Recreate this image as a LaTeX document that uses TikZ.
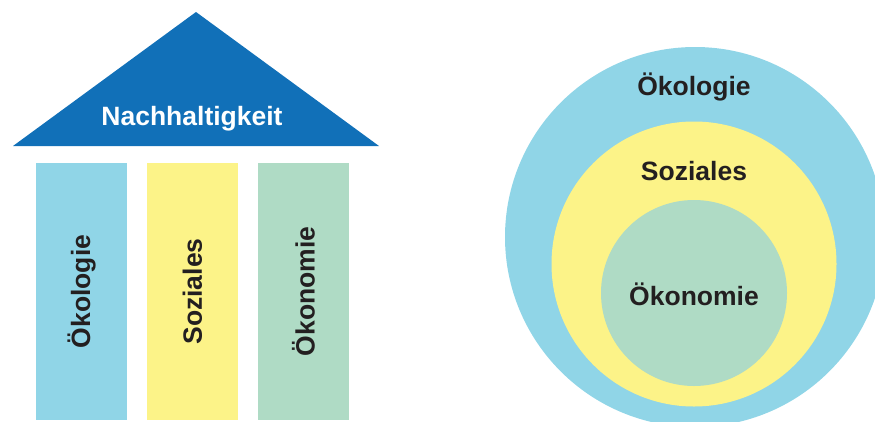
\documentclass[tikz,border=0pt]{standalone}
\usepackage{fontspec}
\setmainfont{Liberation Sans}
\definecolor{roofblue}{HTML}{1170B8}
\definecolor{ecoblue}{HTML}{90D5E7}
\definecolor{socyellow}{HTML}{FCF388}
\definecolor{ecogreen}{HTML}{AFDBC5}
\definecolor{txt}{HTML}{231F20}
\tikzset{
  lbl/.style={font=\fontsize{26.5}{30}\selectfont\bfseries, text=txt, inner sep=0pt},
  pillar/.style={minimum width=91pt, minimum height=257pt, inner sep=0pt, draw=none},
  ring/.style={circle, inner sep=0pt, draw=none}
}
\begin{document}
\begin{tikzpicture}[x=1pt,y=-1pt]
\useasboundingbox (0,0) rectangle (875,421);
\clip (0,0) rectangle (875,421);
% roof
\fill[roofblue] (196,12) -- (379,146) -- (13,146) -- cycle;
\node[lbl, text=white] (nach) at (192,119) {Nachhaltigkeit};
% pillars
\node[pillar, fill=ecoblue] (p1) at (81.5,291.5) {};
\node[pillar, fill=socyellow] (p2) at (192.5,291.5) {};
\node[pillar, fill=ecogreen] (p3) at (303.5,291.5) {};
\node[lbl, rotate=90] (t1) at (p1) {Ökologie};
\node[lbl, rotate=90] (t2) at (p2) {Soziales};
\node[lbl, rotate=90] (t3) at (p3) {Ökonomie};
% circles
\node[ring, fill=ecoblue, minimum size=380pt] (c1) at (695,237) {};
\node[ring, fill=socyellow, minimum size=285pt] (c2) at (694,264) {};
\node[ring, fill=ecogreen, minimum size=186pt] (c3) at (694,293) {};
\node[lbl] (l1) at (694,87) {Ökologie};
\node[lbl] (l2) at (694,171) {Soziales};
\node[lbl] (l3) at (694,294) {Ökonomie};
\end{tikzpicture}
\end{document}
